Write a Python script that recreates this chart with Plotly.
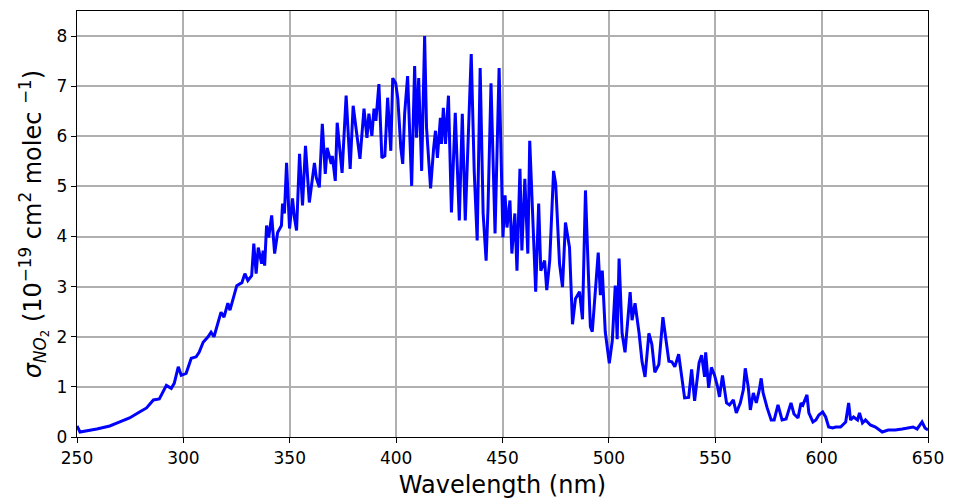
import plotly.graph_objects as go

# NO2 absorption cross-section spectrum
wavelength_nm = [
    250.0, 251.4, 259.3, 265.4, 270.1, 274.7, 279.4, 282.7, 285.9, 288.7,
    292.0, 294.3, 295.7, 297.6, 299.0, 301.3, 303.7, 306.0, 307.4, 309.3,
    311.6, 313.0, 314.4, 317.7, 319.1, 320.9, 321.9, 323.3, 325.1, 327.5,
    328.9, 330.3, 332.1, 333.1, 334.2, 335.2, 336.8, 337.5, 338.2, 339.1,
    340.1, 341.5, 342.9, 344.3, 346.1, 346.6, 347.5, 348.5, 349.9, 351.3,
    352.2, 353.2, 354.6, 356.0, 357.4, 359.2, 361.6, 362.5, 363.9, 365.3,
    366.7, 367.6, 369.5, 370.0, 371.4, 372.3, 374.6, 376.5, 378.4, 379.8,
    381.6, 383.0, 384.9, 386.3, 387.2, 388.6, 389.6, 390.5, 391.9, 393.3,
    394.7, 396.0, 397.5, 398.4, 399.8, 400.8, 402.2, 403.1, 404.0, 405.4,
    407.3, 408.7, 409.6, 410.6, 412.0, 413.4, 414.3, 416.2, 417.6, 418.5,
    419.4, 420.8, 421.3, 422.2, 423.2, 424.6, 426.0, 427.8, 429.7, 431.1,
    432.5, 433.9, 435.3, 436.7, 438.1, 439.5, 440.9, 442.3, 443.2, 444.6,
    446.5, 448.4, 450.2, 451.2, 452.1, 453.5, 454.4, 455.8, 456.8, 458.2,
    459.1, 460.5, 461.9, 462.8, 464.2, 465.6, 467.0, 468.0, 469.8, 470.8,
    472.2, 474.0, 475.0, 476.8, 478.2, 479.6, 481.5, 482.9, 484.3, 486.2,
    487.6, 489.0, 490.4, 491.3, 492.2, 493.4, 495.0, 496.0, 496.9, 498.3,
    500.2, 501.6, 503.0, 503.9, 504.8, 506.2, 507.6, 510.0, 510.9, 512.3,
    514.2, 515.6, 517.0, 518.8, 520.2, 521.6, 523.5, 525.4, 526.3, 528.2,
    529.6, 531.0, 532.8, 534.2, 535.6, 537.5, 538.9, 540.3, 542.4, 543.6,
    545.0, 545.5, 546.9, 548.2, 549.7, 551.1, 552.0, 553.4, 555.3, 556.7,
    558.5, 559.9, 561.8, 563.2, 564.1, 565.5, 566.5, 567.9, 569.3, 570.7,
    571.6, 572.5, 574.4, 576.3, 577.7, 579.5, 581.4, 583.3, 585.6, 587.0,
    588.9, 590.3, 591.2, 593.1, 594.0, 595.9, 597.3, 598.7, 600.5, 601.9,
    603.3, 605.2, 606.6, 608.9, 611.3, 612.7, 613.6, 615.0, 616.9, 617.8,
    619.2, 620.6, 622.9, 625.3, 628.5, 631.3, 634.6, 637.9, 640.7, 643.0,
    644.9, 647.2, 648.6, 650.0,
]

sigma_no2 = [
    0.22, 0.10, 0.16, 0.22, 0.30, 0.38, 0.50, 0.58, 0.74, 0.76,
    1.03, 0.97, 1.07, 1.40, 1.23, 1.27, 1.57, 1.60, 1.69, 1.89,
    2.00, 2.09, 2.00, 2.49, 2.39, 2.67, 2.53, 2.77, 3.02, 3.08,
    3.26, 3.12, 3.22, 3.86, 3.26, 3.78, 3.46, 3.72, 3.42, 4.22,
    3.98, 4.42, 3.66, 4.08, 4.22, 4.66, 4.46, 5.47, 4.16, 4.76,
    4.38, 4.12, 5.65, 4.62, 5.81, 4.68, 5.47, 5.17, 4.98, 6.25,
    5.25, 5.77, 5.45, 5.61, 5.11, 6.27, 5.27, 6.81, 5.35, 6.61,
    5.97, 5.55, 6.55, 5.97, 6.45, 6.01, 6.55, 6.31, 7.04, 5.57,
    5.61, 6.77, 5.71, 7.16, 7.06, 6.75, 5.77, 5.45, 6.45, 7.20,
    5.01, 7.40, 5.97, 7.16, 5.31, 8.00, 6.17, 4.96, 5.75, 6.11,
    5.57, 6.37, 5.85, 6.57, 5.85, 6.81, 4.48, 6.47, 4.32, 6.45,
    4.32, 6.11, 7.64, 5.31, 3.92, 7.36, 4.46, 3.52, 4.58, 7.06,
    4.06, 7.36, 3.98, 4.82, 4.18, 4.72, 3.66, 4.46, 3.32, 5.35,
    3.72, 5.15, 3.66, 5.91, 4.46, 2.90, 4.66, 3.32, 3.52, 2.93,
    3.52, 5.31, 5.05, 3.46, 2.99, 4.28, 3.78, 2.25, 2.76, 2.90,
    2.35, 4.92, 3.22, 2.20, 2.10, 2.75, 3.68, 2.83, 3.32, 2.10,
    1.47, 1.92, 3.02, 1.95, 3.56, 2.07, 1.69, 2.89, 2.33, 2.67,
    2.07, 1.50, 1.20, 2.07, 1.85, 1.29, 1.45, 2.39, 2.13, 1.51,
    1.50, 1.40, 1.65, 1.26, 0.78, 0.79, 1.35, 0.72, 1.48, 1.63,
    1.20, 1.69, 0.98, 1.39, 1.23, 1.00, 0.80, 1.23, 0.68, 0.64,
    0.74, 0.48, 0.68, 0.94, 1.37, 1.00, 0.54, 0.88, 0.68, 0.94,
    1.17, 0.88, 0.58, 0.34, 0.34, 0.64, 0.34, 0.36, 0.68, 0.46,
    0.38, 0.68, 0.64, 0.84, 0.48, 0.30, 0.34, 0.44, 0.50, 0.40,
    0.20, 0.18, 0.20, 0.20, 0.30, 0.68, 0.34, 0.40, 0.34, 0.48,
    0.28, 0.34, 0.24, 0.20, 0.10, 0.14, 0.14, 0.16, 0.18, 0.20,
    0.16, 0.30, 0.18, 0.14,
]

x_ticks = [250, 300, 350, 400, 450, 500, 550, 600, 650]
y_ticks = [0, 1, 2, 3, 4, 5, 6, 7, 8]

fig = go.Figure(
    go.Scatter(
        x=wavelength_nm,
        y=sigma_no2,
        mode="lines",
        line=dict(color="#0000ff", width=3),
        showlegend=False,
    )
)

axis_common = dict(
    showline=True,
    linecolor="black",
    linewidth=1.3,
    mirror=True,
    ticks="outside",
    ticklen=5,
    tickwidth=1.2,
    tickcolor="black",
    showgrid=True,
    gridcolor="#b0b0b0",
    gridwidth=1.5,
    zeroline=False,
    tickfont=dict(family="DejaVu Sans", size=17, color="black"),
)

fig.update_xaxes(
    range=[250, 650],
    tickvals=x_ticks,
    ticktext=[str(v) for v in x_ticks],
    title=dict(text="Wavelength (nm)", font=dict(family="DejaVu Sans", size=24, color="black"), standoff=9),
    **axis_common,
)
fig.update_yaxes(
    range=[0, 8.5],
    tickvals=y_ticks,
    ticktext=[str(v) for v in y_ticks],
    title=dict(
        text="<i>σ</i><sub><i>NO</i><sub>2</sub></sub> (10<sup>−19</sup> cm<sup>2</sup> molec <sup>−1</sup>)",
        font=dict(family="DejaVu Sans", size=24, color="black"),
        standoff=8,
    ),
    **axis_common,
)

fig.update_layout(
    width=954,
    height=503,
    margin=dict(l=77, r=21, t=10, b=66),
    paper_bgcolor="white",
    plot_bgcolor="white",
)

fig.write_html("out.html")
